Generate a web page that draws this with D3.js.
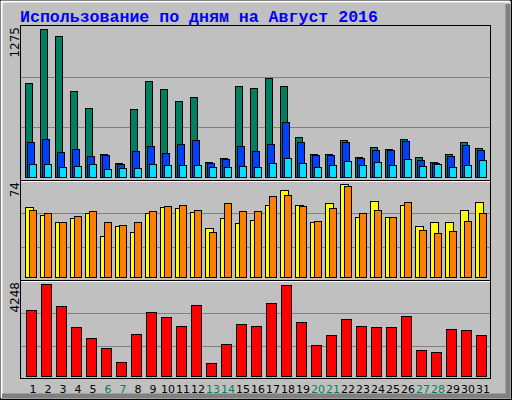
<!DOCTYPE html>
<html>
<head>
<meta charset="utf-8">
<script src="https://cdn.jsdelivr.net/npm/d3@7"></script>
<style>
  body { margin: 0; background: #c0c0c0; }
  svg { display: block; }
</style>
</head>
<body>
<svg id="chart" width="512" height="400"></svg>
<script>
// daily usage, August 2016
var days = d3.range(1, 32);
var weekends = [6, 7, 13, 14, 20, 21, 27, 28];

var hits  = [807,1275,1212,738,592,196,118,583,824,755,652,686,127,161,781,764,
             850,781,342,196,196,316,170,256,238,325,170,127,196,299,247];
var files = [299,325,213,238,178,187,109,221,264,204,282,316,118,152,264,221,
             282,471,299,187,187,299,161,230,230,307,144,118,178,273,230];
var pages = [109,109,83,92,109,66,75,75,109,100,100,100,83,83,92,83,
             118,161,118,83,100,135,100,127,100,152,92,109,83,100,144];

var visits = [55.6,49.2,43.6,46.8,50.8,32.4,40.4,35.6,50.8,55.6,54.8,51.6,38.8,46.8,42.8,45.2,
              57.2,69.2,57.2,43.6,58.8,74,47.6,60.4,47.6,57.2,40.4,43.6,43.6,53.2,59.6];
var sites  = [53.2,50.8,43.6,48.4,52.4,43.6,41.2,43.6,52.4,56.4,57.2,53.2,35.6,58.8,52.4,52.4,
              64.4,65.2,56.4,44.4,54.8,72.4,50.8,53.2,47.6,59.6,37.2,34.8,36.4,44.4,50.8];

var kbytes = [3040,4248,3226,2250,1738,1274,623,1924,2947,2714,2296,3272,576,1459,2389,2296,
              3365,4202,2482,1413,1878,2621,2296,2250,2250,2761,1181,1088,2157,2110,1878];

var svg = d3.select("#chart");

// outer bevel
svg.append("rect").attr("x", 0.5).attr("y", 0.5).attr("width", 511).attr("height", 399)
    .attr("fill", "#c0c0c0").attr("stroke", "#000");
svg.append("path").attr("d", "M1.5,398V1.5H510").attr("fill", "none").attr("stroke", "#fff").attr("stroke-width", 2);
svg.append("path").attr("d", "M2,396H508V4").attr("fill", "none").attr("stroke", "#808080").attr("stroke-width", 5);

svg.append("text").attr("x", 20).attr("y", 22)
    .attr("font-family", "Liberation Mono, DejaVu Sans Mono, monospace")
    .attr("font-weight", "bold").attr("font-size", 16)
    .attr("textLength", 358).attr("lengthAdjust", "spacingAndGlyphs")
    .attr("fill", "#0000ff")
    .text("Использование по дням на Август 2016");

var x = d3.scaleLinear().domain([1, 31]).range([25, 475]);

var panels = [
  {top: 25, bottom: 180, base: 177, maxY: 29, max: 1275, label: "1275", grid: [76.7, 127.3]},
  {top: 180, bottom: 280, base: 276.7, maxY: 184.3, max: 74, label: "74", grid: [213.3, 246.7]},
  {top: 280, bottom: 378, base: 375.7, maxY: 284.3, max: 4248, label: "4248", grid: [313.3, 346]}
];
panels.forEach(function(p) {
  p.y = d3.scaleLinear().domain([0, p.max]).range([p.base, p.maxY]);
  svg.append("rect").attr("x", 20.5).attr("y", p.top + 0.5)
      .attr("width", 470).attr("height", p.bottom - p.top)
      .attr("fill", "#c0c0c0").attr("stroke", "#000");
  p.grid.forEach(function(g) {
    svg.append("line").attr("x1", 21).attr("x2", 490)
        .attr("y1", Math.round(g) + 0.5).attr("y2", Math.round(g) + 0.5)
        .attr("stroke", "#808080");
  });
  svg.append("text")
      .attr("transform", "translate(19," + (p.top + 2) + ") rotate(-90)")
      .attr("text-anchor", "end")
      .attr("font-family", "DejaVu Sans, sans-serif").attr("font-size", 12)
      .attr("fill", "#000").text(p.label);
});
// white separators under panel joins
[181, 281].forEach(function(yy) {
  svg.append("line").attr("x1", 21).attr("x2", 490).attr("y1", yy + 0.5).attr("y2", yy + 0.5)
      .attr("stroke", "#fff");
});

function bars(values, panel, dx, w, color) {
  svg.append("g").selectAll("rect").data(values).enter().append("rect")
      .attr("x", function(d, i) { return x(days[i]) + dx + 0.5; })
      .attr("y", function(d) { return Math.round(panel.y(d)) + 0.5; })
      .attr("width", w)
      .attr("height", function(d) { return Math.round(panel.base) - Math.round(panel.y(d)); })
      .attr("fill", color).attr("stroke", "#000");
}

bars(hits, panels[0], 0, 7, "#008060");
bars(files, panels[0], 2, 7, "#0040ff");
bars(pages, panels[0], 4, 7, "#00e0ff");

bars(visits, panels[1], 0, 8, "#ffff00");
bars(sites, panels[1], 4, 7, "#ff8000");

bars(kbytes, panels[2], 1, 10, "#ff0000");

svg.append("g").selectAll("text").data(days).enter().append("text")
    .attr("x", function(d) { return x(d) + 8; })
    .attr("y", 393)
    .attr("text-anchor", "middle")
    .attr("font-family", "DejaVu Sans, sans-serif").attr("font-size", 11)
    .attr("fill", function(d) { return weekends.indexOf(d) >= 0 ? "#008060" : "#000"; })
    .text(function(d) { return d; });
</script>
</body>
</html>
